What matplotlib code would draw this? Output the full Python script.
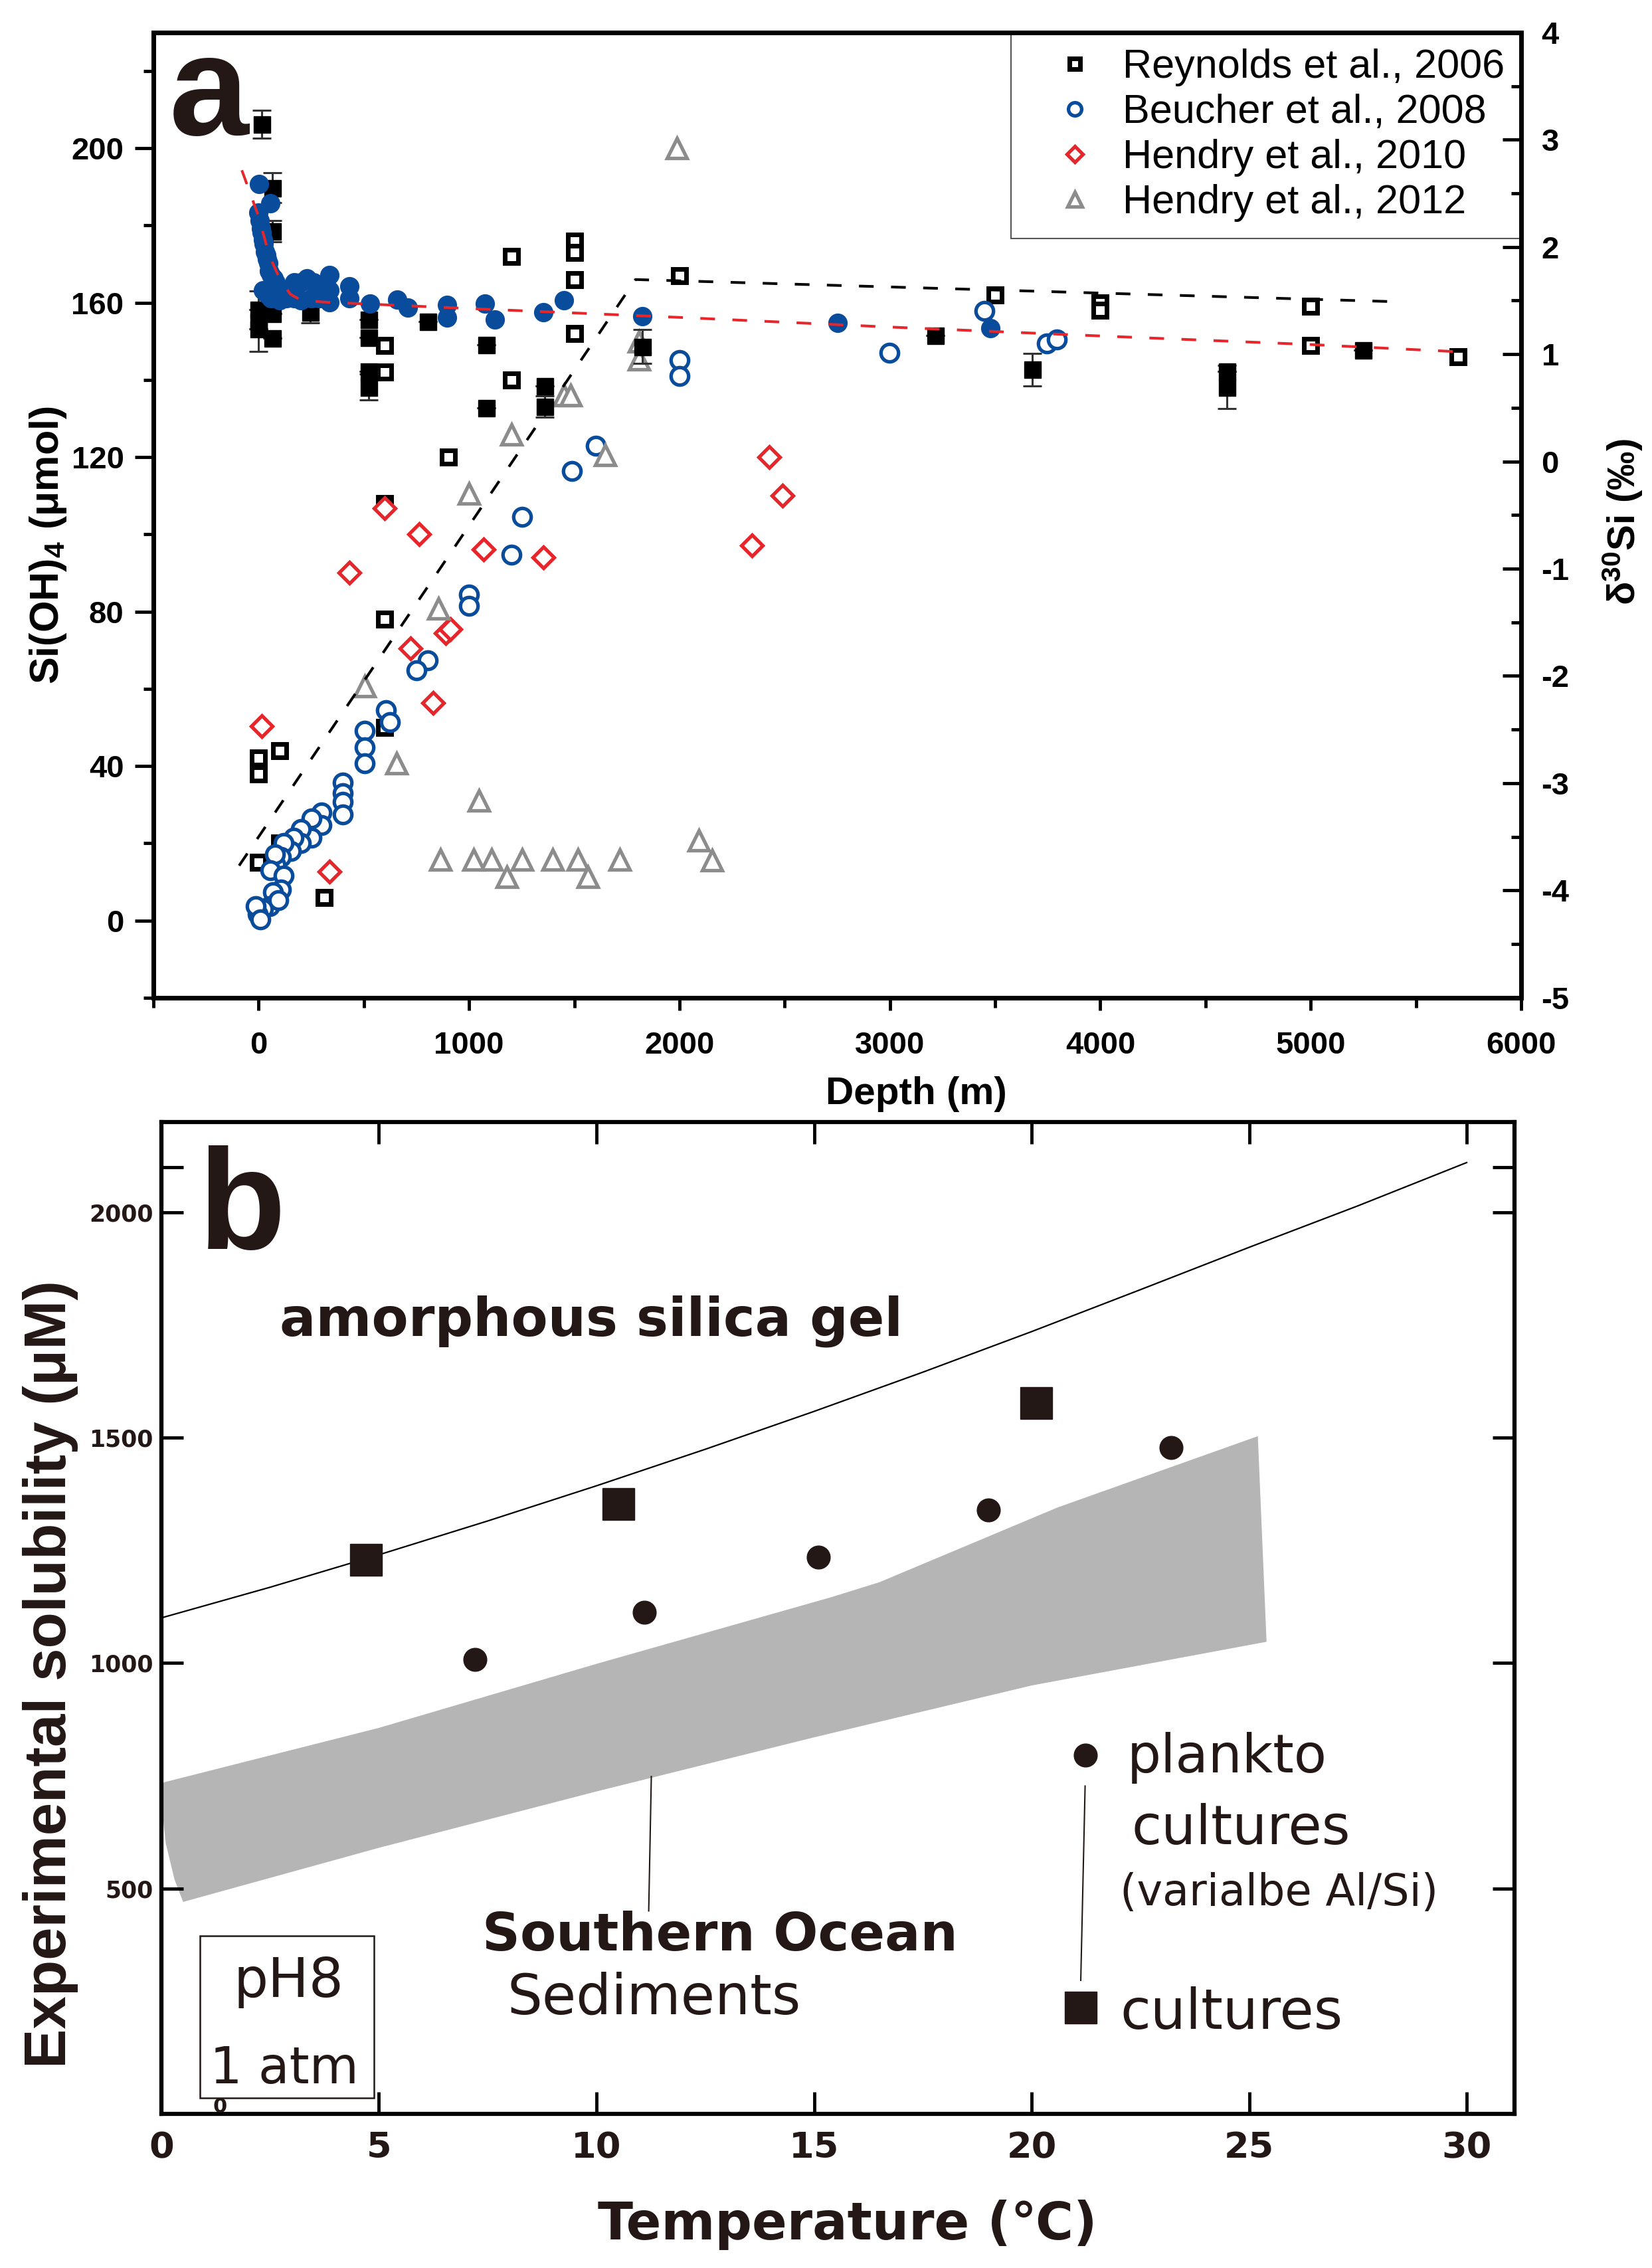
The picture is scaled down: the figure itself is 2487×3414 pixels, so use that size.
"""
Two panel figure: (a) silicic acid and d30Si depth profiles,
(b) solubility of amorphous silica versus temperature.
"""
import matplotlib.pyplot as plt

plt.rcParams['font.family'] = ['Liberation Sans', 'DejaVu Sans']
plt.rcParams['mathtext.fontset'] = 'custom'
plt.rcParams['mathtext.rm'] = 'Liberation Sans:bold'
plt.rcParams['mathtext.it'] = 'Liberation Sans:bold'
plt.rcParams['mathtext.bf'] = 'Liberation Sans:bold'
plt.rcParams['axes.unicode_minus'] = False

# ---------------- panel a : Si(OH)4 (left axis) ----------------
reyn_depth = [0, 0, 0, 100, 100, 310, 600, 600, 600, 600, 600, 900, 1200, 1200,
              1500, 1500, 1500, 1500, 2000, 3500, 4000, 4000, 5000, 5000, 5700]
reyn_si = [15, 38, 42, 44, 20, 6, 78, 108, 50, 142, 149, 120, 140, 172,
           176, 173, 166, 152, 167, 162, 160, 158, 159, 149, 146]

beu_depth = [1251, 1203, 998, 998, 805, 751, 606, 624, 503, 503, 503,
             401, 401, 401, 401, 298, 298, 250, 250, 202, 202, 166, 154, 118,
             106, 81, 76, 57, 118, 106, 69, 51, 21, -3, -15, 9, 94,
             1603, 1489, 2000, 2000, 2997, 3747, 3794, 3450]
beu_si = [104.6, 94.7, 84.4, 81.5, 67.3, 64.8, 54.5, 51.3, 49.2, 44.9, 40.7,
          35.7, 32.9, 30.7, 27.5, 27.9, 24.7, 26.5, 21.5, 23.6, 20.1, 21.5, 18, 20.1,
          16.5, 14.4, 17.2, 13, 11.6, 8, 7.3, 3.7, 3, 1.6, 3.7, 0.2, 5.2,
          123, 116.4, 145.2, 141.1, 147.1, 149.4, 150.4, 157.8]

hen10_depth = [600, 763, 431, 1070, 1353, 890, 910, 721, 829, 15, 335, 2426, 2488, 2344]
hen10_si = [106.8, 100, 90, 96.1, 94, 74.5, 75.5, 70.5, 56.3, 50.3, 12.6, 120, 110, 97.2]

hen12_depth = [998, 853, 504, 654, 1046, 865, 1022, 1106, 1251, 1396, 1516, 1716,
               1179, 1565, 2093, 2156, 1986, 1808, 1808, 1452, 1482, 1201, 1647]
hen12_si = [110.5, 80.8, 60.6, 40.7, 31.1, 15.8, 15.8, 15.8, 15.8, 15.8, 15.8, 15.7,
            11.2, 11.2, 20.7, 15.6, 200, 149.9, 145.3, 136, 136, 125.8, 120.6]

# linear trend of Si(OH)4
si_trend_depth = [-93, 1791, 5377]
si_trend = [14.2, 166, 160.3]

# ---------------- panel a : d30Si (right axis) ----------------
reyn_d_depth = [15, 64, 64, 0, 0, 0, 64, 64, 245, 522, 522, 522, 522, 805, 1082,
                1082, 1360, 1360, 1824, 3216, 3676, 4601, 4601, 5247]
reyn_d30 = [3.144, 2.552, 2.148, 1.415, 1.235, 1.307, 1.152, 1.379, 1.390, 1.321,
            1.155, 0.838, 0.693, 1.307, 1.090, 0.502, 0.704, 0.513, 1.072, 1.173,
            0.856, 0.838, 0.693, 1.040]
reyn_d30_err = [0.13, 0.14, 0.10, 0.0, 0.0, 0.28, 0.0, 0.0, 0.10, 0.0,
                0.0, 0.0, 0.12, 0.0, 0.0, 0.0, 0.0, 0.10, 0.16, 0.0,
                0.15, 0.0, 0.20, 0.0]

beu_d_depth = [3, 57, 0, 5, 10, 15, 20, 25, 30, 35, 40, 45, 50, 60, 70, 80, 90,
               100, 110, 120, 130, 150, 170, 200, 230, 260, 290, 20, 40, 60, 80,
               100, 130, 170, 200, 250, 290, 335, 335, 335, 431, 431, 528, 660,
               708, 895, 895, 1076, 1124, 1354, 1450, 1823, 2751, 3476]
beu_d30 = [2.588, 2.408, 2.318, 2.245, 2.173, 2.137, 2.065, 2.029, 1.957, 1.921,
           1.884, 1.848, 1.776, 1.740, 1.704, 1.668, 1.632, 1.614, 1.596, 1.596,
           1.560, 1.560, 1.668, 1.668, 1.704, 1.668, 1.632, 1.596, 1.560, 1.523,
           1.523, 1.505, 1.523, 1.523, 1.505, 1.523, 1.523, 1.740, 1.596, 1.487,
           1.632, 1.523, 1.473, 1.509, 1.437, 1.462, 1.343, 1.473, 1.321, 1.390,
           1.502, 1.357, 1.289, 1.242]

d30_fit_depth = [-80, 0, 50, 100, 150, 200, 300, 1000, 2000, 3000, 4000, 5000, 5750]
d30_fit = [2.715, 2.282, 1.921, 1.704, 1.560, 1.505, 1.487, 1.426, 1.343, 1.253,
           1.170, 1.090, 1.018]

# ---------------- panel b ----------------
gel_temp = [0, 2.5, 5, 7.5, 10, 12.5, 15, 17.5, 20, 22.5, 25, 27.5, 30]
gel_sol = [1100, 1168, 1240, 1315, 1393, 1474, 1558, 1645, 1735, 1828, 1922, 2014, 2110]

band_temp = [0.05, 5, 10, 15.4, 16.5, 20.6, 25.2, 25.4, 20, 15, 10, 5, 0.5, 0.3, 0.1, 0.0]
band_sol = [735, 856, 998, 1146, 1179, 1345, 1503, 1047, 950, 835, 715, 590, 470, 520, 600, 690]

cult_temp = [4.7, 10.5, 20.1]
cult_sol = [1229, 1353, 1577]
plank_temp = [7.2, 11.1, 15.1, 19.0, 23.2]
plank_sol = [1008, 1113, 1234, 1340, 1478]

BLUE = '#0a4c9c'
RED = '#e6262b'
GREY = '#8c8c8c'
INK = '#231815'

fig = plt.figure(figsize=(24.87, 34.14), dpi=100)

# ======================= panel a =======================
ax = fig.add_axes([0.0929, 0.5601, 0.8279, 0.4256])
ax.plot(reyn_depth, reyn_si, 's', ms=14.5, mfc='white', mec='black', mew=5,
        label='Reynolds et al., 2006', zorder=3)
ax.plot(beu_depth, beu_si, 'o', ms=19, mfc='white', mec=BLUE, mew=3.8,
        label='Beucher et al., 2008', zorder=3)
ax.plot(hen10_depth, hen10_si, 'D', ms=16, mfc='white', mec=RED, mew=3.8,
        label='Hendry et al., 2010', zorder=3)
ax.plot(hen12_depth, hen12_si, '^', ms=22, mfc='white', mec=GREY, mew=3.8,
        label='Hendry et al., 2012', zorder=3)
ax.plot(si_trend_depth, si_trend, '--', color='black', lw=2.9, dashes=(5.5, 6.5),
        zorder=4)

ax.set_xlim(-500, 6000)
ax.set_ylim(-20, 230)
ax.set_xticks(range(0, 6001, 1000))
ax.set_xticks(range(-500, 6001, 1000), minor=True)
ax.set_yticks(range(0, 201, 40))
ax.set_yticks(range(-20, 231, 40), minor=True)
for s in ax.spines.values():
    s.set_linewidth(5)
ax.tick_params(axis='both', which='major', direction='out', length=20, width=3.5,
               labelsize=34)
ax.tick_params(axis='x', which='major', length=14, pad=22)
ax.tick_params(axis='y', which='major', pad=12)
ax.tick_params(axis='both', which='minor', direction='out', length=11, width=3.5)
for lab in ax.get_xticklabels() + ax.get_yticklabels():
    lab.set_fontweight('bold')

ax2 = ax.twinx()
ax2.errorbar(reyn_d_depth, reyn_d30, yerr=reyn_d30_err, fmt='s', ms=18, mfc='black',
             mec='black', ecolor='#333333', elinewidth=2.2, capsize=10, capthick=2.2,
             zorder=3)
ax2.plot(beu_d_depth, beu_d30, 'o', ms=20, mfc=BLUE, mec=BLUE, mew=1, zorder=4)
ax2.plot(d30_fit_depth, d30_fit, '--', color=RED, lw=2.9, dashes=(5.5, 6.5), zorder=5)
ax2.set_ylim(-5, 4)
ax2.set_yticks(range(-5, 5))
ax2.set_yticks([v + 0.5 for v in range(-5, 4)], minor=True)
ax2.tick_params(axis='y', which='major', direction='in', length=20, width=3.5,
                labelsize=34, pad=22)
ax2.tick_params(axis='y', which='minor', direction='in', length=11, width=3.5)
for lab in ax2.get_yticklabels():
    lab.set_fontweight('bold')
for s in ax2.spines.values():
    s.set_linewidth(5)

leg = ax.legend(loc='upper right', bbox_to_anchor=(1.0, 1.0), borderaxespad=0.0,
                fontsize=44, markerscale=0.75, handlelength=2.36, handletextpad=0.0,
                labelspacing=0.18, borderpad=0.4, fancybox=False, framealpha=1)
leg.get_frame().set_edgecolor('#555555')
leg.get_frame().set_linewidth(1.5)
leg.set_zorder(10)

ax.text(0.0117, 0.894, 'a', transform=ax.transAxes, fontsize=155,
        fontweight='bold', color=INK, va='baseline')
ax.text(0.5575, -0.0998, 'Depth (m)', transform=ax.transAxes, fontsize=42,
        fontweight='bold', ha='center', va='center')
ax.text(-0.0772, 0.469, 'Si(OH)$_4$ (μmol)', transform=ax.transAxes, fontsize=44,
        fontweight='bold', rotation=90, ha='center', va='center')
ax.text(1.0743, 0.493, 'δ$^{30}$Si (‰)', transform=ax.transAxes, fontsize=42,
        fontweight='bold', rotation=90, ha='center', va='center')

# ======================= panel b =======================
bx = fig.add_axes([0.0977, 0.0680, 0.8191, 0.4373])
bx.fill(band_temp, band_sol, color='#b5b5b5', lw=0, zorder=1)
bx.plot(gel_temp, gel_sol, '-', color='black', lw=1.6, zorder=2)
bx.plot(cult_temp, cult_sol, 's', ms=34, color=INK, zorder=3)
bx.plot(plank_temp, plank_sol, 'o', ms=25, color=INK, zorder=3)
# leader lines
bx.plot([11.26, 11.2], [748, 450], '-', color=INK, lw=1.5)
bx.plot([21.23, 21.13], [727, 296], '-', color=INK, lw=1.5)
# legend symbols
bx.plot([21.23], [796], 'o', ms=25, color=INK)
bx.plot([21.13], [235], 's', ms=34, color=INK)

bx.set_xlim(0, 31.1)
bx.set_ylim(0, 2200)
bx.set_xticks(range(0, 31, 5))
bx.set_yticks([500, 1000, 1500, 2000])
bx.set_yticks([2100], minor=True)
for s in bx.spines.values():
    s.set_linewidth(4.5)
bx.tick_params(axis='both', which='both', direction='in', top=True, right=True,
               length=24, width=3.5)
bx.tick_params(axis='x', labelsize=39, pad=18)
bx.tick_params(axis='y', labelsize=25, pad=9)
for lab in bx.get_xticklabels() + bx.get_yticklabels():
    lab.set_fontweight('bold')
    lab.set_family('DejaVu Sans')
    lab.set_color(INK)

dv = ['DejaVu Sans']
bx.text(0.0275, 0.8717, 'b', transform=bx.transAxes, fontsize=155,
        fontweight='bold', color=INK, va='baseline')
bx.text(2.72, 1726, 'amorphous silica gel', fontsize=58, fontweight='bold',
        family=dv, color=INK, va='baseline')
bx.text(7.37, 362, 'Southern Ocean', fontsize=57, fontweight='bold', family=dv,
        color=INK, va='baseline')
bx.text(7.95, 221, 'Sediments', fontsize=60, family=dv, color=INK, va='baseline')
bx.text(22.2, 757, 'plankto', fontsize=58, family=dv, color=INK, va='baseline')
bx.text(22.3, 598, 'cultures', fontsize=59, family=dv, color=INK, va='baseline')
bx.text(22.03, 463, '(varialbe Al/Si)', fontsize=47, family=dv, color=INK,
        va='baseline')
bx.text(22.03, 189, 'cultures', fontsize=60, family=dv, color=INK, va='baseline')
bx.text(2.92, 259, 'pH8', fontsize=59, family=dv, color=INK, ha='center',
        va='baseline')
bx.text(1.12, 68, '1 atm', fontsize=55, family=dv, color=INK, va='baseline')
bx.text(1.35, 3, '0', fontsize=22, family=dv, fontweight='bold', color=INK,
        ha='center', va='baseline')
bx.add_patch(plt.Rectangle((0.89, 35), 4.0, 360, fill=False, ec=INK, lw=1.8))

bx.text(0.507, -0.112, 'Temperature (℃)', transform=bx.transAxes, fontsize=56,
        fontweight='bold', family=dv, color=INK, ha='center', va='center')
bx.text(-0.082, 0.443, 'Experimental solubility (μM)', transform=bx.transAxes,
        fontsize=64, fontweight='bold', color=INK, rotation=90, ha='center',
        va='center')

fig.savefig('out.png', dpi=100)
